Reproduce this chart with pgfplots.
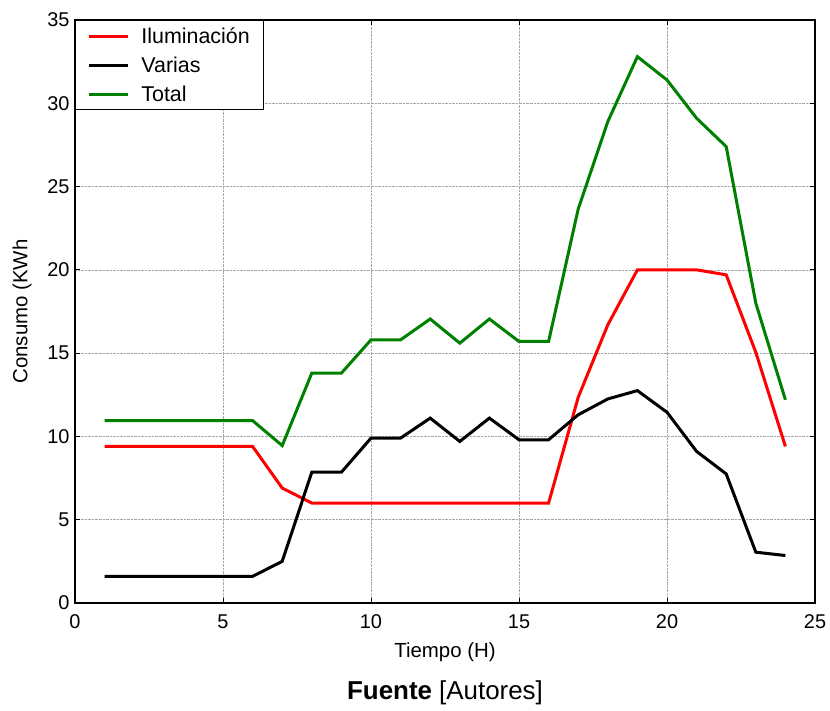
\documentclass[border=0pt]{standalone}
\usepackage{pgfplots}
\pgfplotsset{compat=1.18}
\usepackage{fontspec}
\setmainfont{Liberation Sans}
\definecolor{mgreen}{rgb}{0,0.5,0}
\begin{document}
\begin{tikzpicture}
\useasboundingbox (-75bp,-108bp) rectangle (755bp,603bp);
\begin{axis}[
  name=ax,
  at={(0,0)}, anchor=south west,
  scale only axis,
  width=740bp, height=583bp,
  xmin=0, xmax=25, ymin=0, ymax=35,
  xtick={0,5,...,25}, ytick={0,5,...,35},
  tick align=inside,
  major tick length=5bp,
  tick style={black, line width=0.8bp},
  axis line style={black, line width=1.2bp},
  grid=major,
  major grid style={gray!70, densely dotted, line width=0.6bp},
  /pgf/number format/assume math mode=true,
  ticklabel style={font=\fontsize{20}{23}\selectfont},
  xticklabel style={yshift=-8bp},
  yticklabel style={xshift=-2bp},
  xlabel={Tiempo (H)},
  ylabel={Consumo (KWh},
  label style={font=\fontsize{20.5}{24}\selectfont},
  xlabel style={at={(axis description cs:0.5,0)}, anchor=center, yshift=-49bp},
  ylabel style={at={(axis description cs:0,0.5)}, anchor=center, yshift=53bp},
  legend cell align=left,
  legend style={at={(0,1)}, anchor=north west, draw=black, line width=0.8bp,
    font=\fontsize{21.5}{25}\selectfont, inner xsep=12bp, inner ysep=5bp,
    row sep=8bp},
  legend image code/.code={\draw[#1, line width=3bp] (0bp,0bp) -- (39bp,0bp); \path (49bp,0bp);},
  every axis plot/.append style={line width=3bp},
]
\addplot[red] coordinates {(1,9.4)(2,9.4)(3,9.4)(4,9.4)(5,9.4)(6,9.4)(7,6.9)(8,6.0)(9,6.0)(10,6.0)(11,6.0)(12,6.0)(13,6.0)(14,6.0)(15,6.0)(16,6.0)(17,12.35)(18,16.7)(19,20.0)(20,20.0)(21,20.0)(22,19.7)(23,15.05)(24,9.4)};
\addlegendentry{Iluminación}
\addplot[black] coordinates {(1,1.6)(2,1.6)(3,1.6)(4,1.6)(5,1.6)(6,1.6)(7,2.5)(8,7.85)(9,7.85)(10,9.9)(11,9.9)(12,11.1)(13,9.7)(14,11.1)(15,9.8)(16,9.8)(17,11.3)(18,12.25)(19,12.75)(20,11.45)(21,9.1)(22,7.75)(23,3.05)(24,2.85)};
\addlegendentry{Varias}
\addplot[mgreen] coordinates {(1,10.95)(2,10.95)(3,10.95)(4,10.95)(5,10.95)(6,10.95)(7,9.45)(8,13.8)(9,13.8)(10,15.8)(11,15.8)(12,17.05)(13,15.6)(14,17.05)(15,15.7)(16,15.7)(17,23.65)(18,28.9)(19,32.8)(20,31.4)(21,29.1)(22,27.4)(23,18.0)(24,12.2)};
\addlegendentry{Total}
\end{axis}
\node[font=\fontsize{26}{30}\selectfont] at ([yshift=-90bp]ax.south) {\textbf{Fuente} [Autores]};
\end{tikzpicture}
\end{document}
